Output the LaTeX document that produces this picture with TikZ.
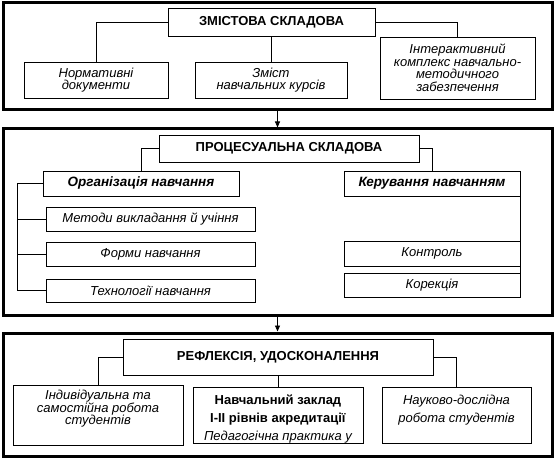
\documentclass[tikz,border=0pt]{standalone}
\usepackage{fontspec}
\setmainfont{Liberation Sans}
\usetikzlibrary{arrows.meta}
\begin{document}
\begin{tikzpicture}[x=1pt,y=-1pt,
  panel/.style={draw, line width=3pt, inner sep=0pt, minimum width=549pt},
  box/.style={draw, line width=0.9pt, inner sep=1pt, align=center, font=\fontsize{13}{12.5}\selectfont\itshape},
  ttl/.style={draw, line width=0.9pt, inner sep=1pt, align=center, font=\fontsize{13}{14}\selectfont\bfseries},
  sub/.style={draw, line width=0.9pt, inner sep=1pt, align=center, font=\fontsize{13.5}{14}\selectfont\bfseries\itshape},
  txt/.style={inner sep=0pt, align=center, font=\fontsize{13}{12.5}\selectfont\itshape},
  conn/.style={line width=0.9pt},
  flow/.style={line width=0.9pt, -{Triangle[width=5pt,length=6pt]}}
]
\useasboundingbox (0,0) rectangle (556,462);

% ---------- panel 1 ----------
\node[panel, minimum height=107pt] (p1) at (277.5,56.5) {};
\node[ttl, minimum width=207pt, minimum height=28pt] (t1) at (271.5,22) {ЗМІСТОВА СКЛАДОВА};
\node[box, minimum width=144pt, minimum height=36pt] (a) at (96,80) {Нормативні\\документи};
\node[box, minimum width=152pt, minimum height=36pt] (b) at (271,80) {Зміст\\навчальних курсів};
\node[box, minimum width=155pt, minimum height=62pt] (c) at (457.5,68) {Інтерактивний\\комплекс навчально-\\методичного\\забезпечення};
\draw[conn] (t1.west) -| (a.north);
\draw[conn] (t1.south) -- (t1.south |- b.north);
\draw[conn] (t1.east) -| (c.north);

% ---------- panel 2 ----------
\node[panel, minimum height=186pt] (p2) at (277.5,222) {};
\node[ttl, minimum width=260pt, minimum height=27pt] (t2) at (289,148.5) {ПРОЦЕСУАЛЬНА СКЛАДОВА};
\node[sub, minimum width=196pt, minimum height=25pt] (org) at (141,183.5) {Організація навчання};
\node[sub, minimum width=176pt, minimum height=25pt] (ker) at (432,183.5) {Керування навчанням};
\node[box, minimum width=209pt, minimum height=24pt] (met) at (150.5,219) {Методи викладання й учіння};
\node[box, minimum width=209pt, minimum height=24pt] (form) at (150.5,254) {Форми навчання};
\node[box, minimum width=209pt, minimum height=23pt] (tech) at (150.5,290.5) {Технології навчання};
\node[box, minimum width=176pt, minimum height=25pt] (kon) at (432,253.5) {Контроль};
\node[box, minimum width=176pt, minimum height=24pt] (kor) at (432,285) {Корекція};
\coordinate (lb) at (17,0);
\draw[conn] (t2.west) -| (org.north);
\draw[conn] (t2.east) -| (ker.north);
\draw[conn] (org.west) -- (org.west -| lb) |- (tech.west);
\draw[conn] (met.west -| lb) -- (met.west);
\draw[conn] (form.west -| lb) -- (form.west);
\draw[conn] (ker.south east) -- (kor.north east);

% ---------- panel 3 ----------
\node[panel, minimum height=123pt] (p3) at (277.5,394.5) {};
\node[ttl, minimum width=310pt, minimum height=36pt] (t3) at (278,357) {РЕФЛЕКСІЯ, УДОСКОНАЛЕННЯ};
\node[box, minimum width=170pt, minimum height=60pt] (d) at (98,415) {};
\node[box, minimum width=170pt, minimum height=56pt] (e) at (278,415) {};
\node[box, minimum width=149pt, minimum height=56pt] (f) at (456.5,415) {};
\node[txt] (dt) at (98,409) {Індивідуальна та\\самостійна робота\\студентів};
\node[txt, font=\fontsize{13}{18}\selectfont] (et) at (278,419) {\textbf{Навчальний заклад}\\\textbf{I-II рівнів акредитації}\\{\fontsize{13}{18}\selectfont\itshape Педагогічна практика у}};
\node[txt, font=\fontsize{13}{18}\selectfont\itshape] (ft) at (456.5,410) {Науково-дослідна\\робота студентів};
\draw[conn] (t3.west) -| (d.north);
\draw[conn] (t3.south) -- (t3.south |- e.north);
\draw[conn] (t3.east) -| (f.north);

% ---------- flow arrows ----------
\draw[flow] (p1.south) -- (p2.north);
\draw[flow] (p2.south) -- (p3.north);
\end{tikzpicture}
\end{document}
